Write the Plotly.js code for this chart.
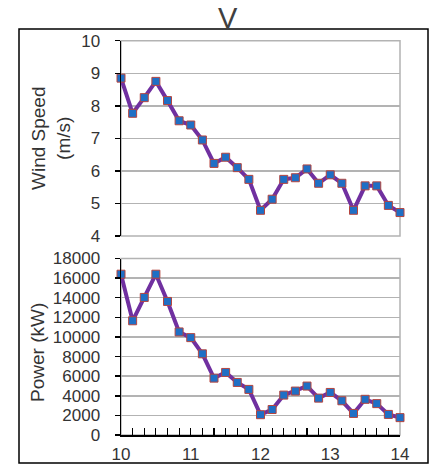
<!DOCTYPE html>
<html>
<head>
<meta charset="utf-8">
<script src="https://cdn.plot.ly/plotly-3.0.1.min.js"></script>
<style>html,body{margin:0;padding:0;background:#fff;}#chart{width:432px;height:467px;}</style>
</head>
<body>
<div id="chart"></div>
<script>
const timeHours = [10, 10.1667, 10.3333, 10.5, 10.6667, 10.8333, 11, 11.1667, 11.3333, 11.5, 11.6667, 11.8333, 12, 12.1667, 12.3333, 12.5, 12.6667, 12.8333, 13, 13.1667, 13.3333, 13.5, 13.6667, 13.8333, 14];
const windSpeed = [8.85, 7.77, 8.25, 8.75, 8.16, 7.54, 7.41, 6.95, 6.23, 6.42, 6.1, 5.74, 4.79, 5.13, 5.74, 5.79, 6.06, 5.62, 5.88, 5.62, 4.79, 5.54, 5.54, 4.94, 4.72];
const powerKW = [16400, 11650, 14030, 16400, 13620, 10510, 9930, 8280, 5800, 6380, 5360, 4650, 2070, 2600, 4070, 4480, 4990, 3760, 4340, 3490, 2200, 3640, 3200, 2100, 1770];
const chartTitle = 'V';
const windTitle = 'Wind Speed<br>(m/s)';
const powerTitle = 'Power (kW)';

const W = 432, H = 467;
const px = v => v / W;
const py = v => (H - v) / H;

const lineStyle = {color: '#7030A0', width: 4};
const markerStyle = {symbol: 'square', size: 8, color: '#1F6FC5', line: {color: '#B5453F', width: 1}};
const font = {family: 'Liberation Sans, Arial, sans-serif', size: 17, color: '#333333'};

const traces = [
  {x: timeHours, y: windSpeed, xaxis: 'x', yaxis: 'y', mode: 'lines+markers', line: lineStyle, marker: markerStyle, cliponaxis: false, hoverinfo: 'x+y'},
  {x: timeHours, y: powerKW, xaxis: 'x2', yaxis: 'y2', mode: 'lines+markers', line: lineStyle, marker: markerStyle, cliponaxis: false, hoverinfo: 'x+y'}
];

const xDom = [px(121), px(400)];
const layout = {
  width: W, height: H,
  margin: {l: 0, r: 0, t: 0, b: 0},
  paper_bgcolor: '#ffffff', plot_bgcolor: '#ffffff',
  showlegend: false,
  font: font,
  xaxis: {domain: xDom, anchor: 'y', range: [10, 14], showgrid: false, showticklabels: false, ticks: '', zeroline: false, showline: false, fixedrange: true},
  yaxis: {domain: [py(236), py(40.7)], anchor: 'x', range: [4, 10], dtick: 1, tick0: 4,
    showgrid: true, gridcolor: '#b3b3b3', gridwidth: 1.5, zeroline: false,
    showline: true, linecolor: '#000000', linewidth: 1.5,
    ticks: 'outside', ticklen: 5, tickcolor: '#000000', tickwidth: 1.5, ticklabelstandoff: 11, tickfont: font},
  xaxis2: {domain: xDom, anchor: 'y2', range: [10, 14], showgrid: false, zeroline: false,
    tickmode: 'linear', tick0: 10, dtick: 1,
    ticks: 'inside', ticklen: 7, tickcolor: '#000000', tickwidth: 1.2,
    minor: {dtick: 1/6, tick0: 10, ticks: 'inside', ticklen: 7, tickcolor: '#000000', tickwidth: 1.2, showgrid: false},
    showline: true, linecolor: '#000000', linewidth: 1.5, ticklabelstandoff: 3, tickfont: font},
  xaxis3: {domain: xDom, anchor: 'y2', overlaying: 'x2', range: [10, 14], showgrid: false, zeroline: false,
    tickmode: 'linear', tick0: 10, dtick: 1/6, ticks: 'outside', ticklen: 4, tickcolor: '#000000', tickwidth: 1.2,
    showticklabels: false, showline: false},
  yaxis2: {domain: [py(435), py(258.5)], anchor: 'x2', range: [0, 18000], dtick: 2000, tick0: 0, tickformat: 'd',
    showgrid: true, gridcolor: '#b3b3b3', gridwidth: 1.5, zeroline: false,
    showline: true, linecolor: '#000000', linewidth: 1.5,
    ticks: 'outside', ticklen: 5, tickcolor: '#000000', tickwidth: 1.5, ticklabelstandoff: 11, tickfont: font},
  shapes: [
    {type: 'rect', xref: 'x domain', yref: 'y domain', x0: 0, x1: 1, y0: 0, y1: 1, line: {color: '#b3b3b3', width: 1.5}, layer: 'below'},
    {type: 'rect', xref: 'x2 domain', yref: 'y2 domain', x0: 0, x1: 1, y0: 0, y1: 1, line: {color: '#b3b3b3', width: 1.5}, layer: 'below'},
    {type: 'rect', xref: 'paper', yref: 'paper', x0: px(19), x1: px(428), y0: py(463), y1: py(29), line: {color: '#000000', width: 1.5}, layer: 'above'}
  ],
  annotations: [
    {text: chartTitle, xref: 'paper', yref: 'paper', x: px(228), y: py(18), xanchor: 'center', yanchor: 'middle', showarrow: false,
     font: {family: 'Liberation Sans, Arial, sans-serif', size: 29, color: '#404040'}},
    {text: windTitle, xref: 'paper', yref: 'paper', x: px(51), y: py(138), xanchor: 'center', yanchor: 'middle', showarrow: false, textangle: -90,
     font: {family: 'Liberation Sans, Arial, sans-serif', size: 19, color: '#333333'}},
    {text: powerTitle, xref: 'paper', yref: 'paper', x: px(38), y: py(353), xanchor: 'center', yanchor: 'middle', showarrow: false, textangle: -90,
     font: {family: 'Liberation Sans, Arial, sans-serif', size: 19, color: '#333333'}}
  ]
};

Plotly.newPlot('chart', traces, layout, {displayModeBar: false, staticPlot: true});
</script>
</body>
</html>
